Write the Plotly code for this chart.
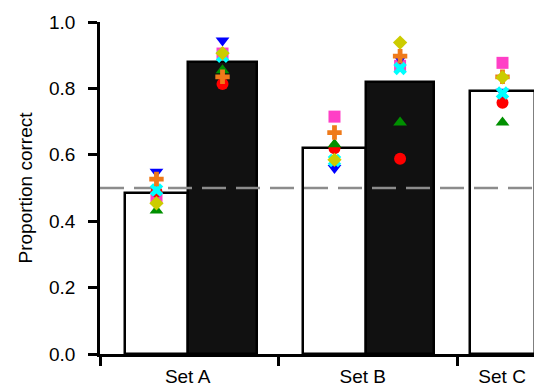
import plotly.graph_objects as go

# ---- data ----
sets = ["Set A", "Set B", "Set C"]
bar_labels = ["A-white", "A-black", "B-white", "B-black", "C-white"]
bar_means = [0.485, 0.879, 0.622, 0.818, 0.792]

# per-subject values for each bar (order = bar_labels)
magenta_sq = [0.469, 0.905, 0.715, 0.868, 0.877]
red_circle = [0.489, 0.813, 0.620, 0.588, 0.757]
green_up = [0.432, 0.855, 0.632, 0.697, 0.697]
blue_down = [0.549, 0.944, 0.560, 0.890, 0.790]
cyan_x = [0.494, 0.897, 0.583, 0.860, 0.786]
orange_cross = [0.527, 0.835, 0.667, 0.897, 0.835]
yellow_diamond = [0.454, 0.906, 0.585, 0.938, 0.833]

chance = 0.5
y_ticks = [0.0, 0.2, 0.4, 0.6, 0.8, 1.0]

# ---- layout / style (positions in x units, group boundaries at 0,1,2) ----
bar_pos = [0.316, 0.6855, 1.312, 1.679, 2.252]
bar_width = [0.352, 0.387, 0.352, 0.38, 0.364]
bar_fill = ["white", "#111111", "white", "#111111", "white"]
label_pos = [0.49, 1.47, 2.25]
group_edges = [0, 1, 2]
x_range = [0, 2.473]

FONT = "Arial, Liberation Sans, sans-serif"

fig = go.Figure()
fig.add_trace(go.Bar(
    x=bar_pos, y=bar_means, width=bar_width,
    marker=dict(color=bar_fill, line=dict(color="black", width=2.5)),
    hoverinfo="skip", showlegend=False,
))

fig.add_trace(go.Scatter(
    x=x_range, y=[chance, chance], mode="lines",
    line=dict(color="#8c8c8c", width=2.5, dash="24px,10px"),
    showlegend=False, hoverinfo="skip", cliponaxis=False,
))

subjects = [
    (magenta_sq, "square", "#ff3fc6", 12),
    (red_circle, "circle", "#ff0000", 12),
    (green_up, "triangle-up", "#009000", 12),
    (blue_down, "triangle-down", "#0000ff", 12),
    (cyan_x, "x", "#00ffff", 12),
    (orange_cross, "cross", "#ef7a1a", 12),
    (yellow_diamond, "diamond", "#cccc00", 11),
]
for vals, sym, col, sz in subjects:
    fig.add_trace(go.Scatter(
        x=bar_pos, y=vals, mode="markers",
        marker=dict(symbol=sym, color=col, size=sz, line=dict(width=0)),
        showlegend=False, cliponaxis=False,
    ))

# the page body adds an 8px margin, so the figure is sized to fit inside it
fig.update_layout(
    width=534, height=379,
    margin=dict(l=92, r=0, t=14, b=33, autoexpand=False),
    plot_bgcolor="white", paper_bgcolor="white",
    font=dict(family=FONT, size=19, color="black"),
    bargap=0,
)
fig.update_xaxes(
    range=x_range, showgrid=False, zeroline=False,
    showline=True, linecolor="black", linewidth=2.5,
    tickmode="array", tickvals=label_pos, ticktext=sets,
    ticks="outside", ticklen=0, tickcolor="rgba(0,0,0,0)",
    ticklabelstandoff=3,
    tickfont=dict(size=19),
    minor=dict(tickmode="array", tickvals=group_edges, ticks="outside",
               ticklen=9, tickwidth=2.5, tickcolor="black", showgrid=False),
)
fig.update_yaxes(
    range=[0, 1], showgrid=False, zeroline=False,
    showline=True, linecolor="black", linewidth=2.5,
    tickmode="array", tickvals=y_ticks, ticktext=[f"{v:.1f}" for v in y_ticks],
    ticks="outside", ticklen=9, tickwidth=2.5, tickcolor="black",
    ticklabelstandoff=9, tickfont=dict(size=19),
    title=dict(text="Proportion correct", font=dict(size=19), standoff=12),
)

fig.write_html("out.html")
